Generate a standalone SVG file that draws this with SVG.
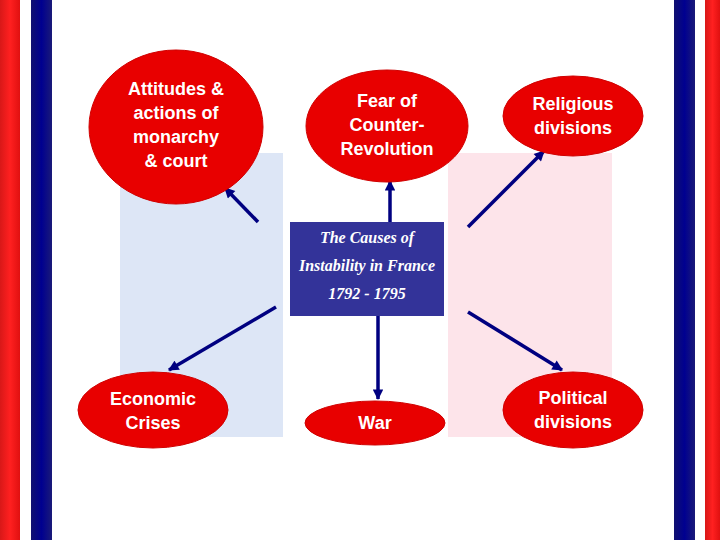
<svg xmlns="http://www.w3.org/2000/svg" width="720" height="540" viewBox="0 0 720 540">
<defs>
<linearGradient id="red" x1="0" y1="0" x2="1" y2="0">
<stop offset="0" stop-color="#d81818"/><stop offset="0.5" stop-color="#ff2020"/><stop offset="1" stop-color="#e01010"/>
</linearGradient>
<linearGradient id="blue" x1="0" y1="0" x2="1" y2="0">
<stop offset="0" stop-color="#101070"/><stop offset="0.5" stop-color="#000090"/><stop offset="1" stop-color="#1a1a78"/>
</linearGradient>
<marker id="ah" viewBox="0 0 10 10" refX="9" refY="5" markerWidth="3.5" markerHeight="3" orient="auto" markerUnits="strokeWidth">
<path d="M0,0 L10,5 L0,10 z" fill="#000080"/>
</marker>
<style>
.node ellipse{fill:#e80000;stroke:#d00000;stroke-width:1}
.node text{fill:#ffffff;font-family:"Comic Sans MS","Liberation Sans",sans-serif;font-weight:bold;font-size:18px;text-anchor:middle;dominant-baseline:central}
.conn line{stroke:#000080;stroke-width:3.5;marker-end:url(#ah)}
.title text{fill:#ffffff;font-family:"Liberation Serif",serif;font-style:italic;font-weight:bold;font-size:16px;text-anchor:middle;dominant-baseline:central}
</style>
</defs>
<rect width="720" height="540" fill="#ffffff"/>
<rect x="0" y="0" width="20" height="540" fill="url(#red)"/>
<rect x="31" y="0" width="21" height="540" fill="url(#blue)"/>
<rect x="674" y="0" width="21" height="540" fill="url(#blue)"/>
<rect x="705" y="0" width="15" height="540" fill="url(#red)"/>
<rect x="120" y="153" width="163" height="284" fill="#dde6f6"/>
<rect x="448" y="153" width="164" height="284" fill="#fde4ea"/>
<g class="conn">
<line x1="258" y1="222" x2="225" y2="188"/>
<line x1="390" y1="222" x2="390" y2="181"/>
<line x1="468" y1="227" x2="544" y2="151"/>
<line x1="276" y1="307" x2="169" y2="370"/>
<line x1="378" y1="316" x2="378" y2="399"/>
<line x1="468" y1="312" x2="562" y2="370"/>
</g>
<g id="center" class="title">
<rect x="290" y="222" width="154" height="94" fill="#333399"/>
<text x="367" y="237">The Causes of</text>
<text x="367" y="265">Instability in France</text>
<text x="367" y="293">1792 - 1795</text>
</g>
<g id="attitudes" class="node">
<ellipse cx="176" cy="127" rx="87" ry="77"/>
<text x="176" y="89">Attitudes &amp;</text>
<text x="176" y="113">actions of</text>
<text x="176" y="137">monarchy</text>
<text x="176" y="161">&amp; court</text>
</g>
<g id="fear" class="node">
<ellipse cx="387" cy="126" rx="81" ry="56"/>
<text x="387" y="101">Fear of</text>
<text x="387" y="125">Counter-</text>
<text x="387" y="149">Revolution</text>
</g>
<g id="religious" class="node">
<ellipse cx="573" cy="116" rx="70" ry="40"/>
<text x="573" y="104">Religious</text>
<text x="573" y="128">divisions</text>
</g>
<g id="economic" class="node">
<ellipse cx="153" cy="410" rx="75" ry="38"/>
<text x="153" y="399">Economic</text>
<text x="153" y="423">Crises</text>
</g>
<g id="war" class="node">
<ellipse cx="375" cy="423" rx="70" ry="22"/>
<text x="375" y="423">War</text>
</g>
<g id="political" class="node">
<ellipse cx="573" cy="410" rx="70" ry="38"/>
<text x="573" y="398">Political</text>
<text x="573" y="422">divisions</text>
</g>
</svg>
